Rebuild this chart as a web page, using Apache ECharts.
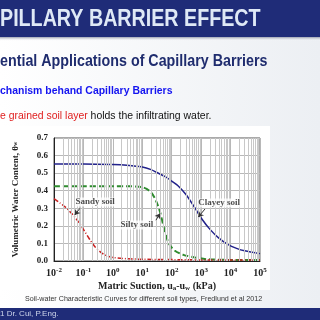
<!DOCTYPE html>
<html>
<head>
<meta charset="utf-8">
<script src="https://cdn.jsdelivr.net/npm/echarts@6/dist/echarts.min.js"></script>
<style>
html,body{margin:0;padding:0;background:#fff;}
#swcc_chart{width:320px;height:320px;}
</style>
</head>
<body>
<!-- soil-water characteristic curves -->
<div id="swcc_chart"></div>
<script type="text/javascript">
// matric suction (kPa) and volumetric water content
var clayeySuction = [0.01, 0.1, 1, 3, 10, 20, 30, 60, 100, 160, 300, 600, 1000, 2000, 4000, 8000, 16000, 30000, 100000];
var clayeyTheta   = [0.552, 0.552, 0.549, 0.545, 0.535, 0.52, 0.505, 0.48, 0.455, 0.43, 0.38, 0.305, 0.245, 0.18, 0.13, 0.095, 0.072, 0.058, 0.042];

var siltySuction = [0.01, 0.1, 1, 3, 6, 10, 14, 20, 28, 40, 56, 80, 125, 250, 630, 1600, 10000, 100000];
var siltyTheta   = [0.425, 0.425, 0.425, 0.425, 0.424, 0.42, 0.41, 0.39, 0.35, 0.28, 0.18, 0.10, 0.06, 0.035, 0.02, 0.01, 0.006, 0.005];

var sandySuction = [0.01, 0.016, 0.025, 0.04, 0.063, 0.1, 0.16, 0.25, 0.4, 0.63, 1, 3, 10, 100, 1000, 100000];
var sandyTheta   = [0.355, 0.33, 0.305, 0.27, 0.23, 0.18, 0.125, 0.08, 0.048, 0.03, 0.02, 0.013, 0.01, 0.008, 0.006, 0.005];

var yTicks = [0, 0.1, 0.2, 0.3, 0.4, 0.5, 0.6, 0.7];
var xDecades = [0.01, 0.1, 1, 10, 100, 1000, 10000, 100000];

// soil name labels: [suction, theta] of text and arrow [from, to]
var soilNames  = ['Sandy soil', 'Silty soil', 'Clayey soil'];
var namePos    = [[0.25, 0.336], [6.6, 0.205], [4100, 0.33]];
var arrowFrom  = [[0.076, 0.30], [29, 0.232], [1350, 0.296]];
var arrowTo    = [[0.051, 0.262], [40, 0.27], [800, 0.25]];

var swccChart = echarts.init(document.getElementById('swcc_chart'));

function pairs(xs, ys) {
	var list = [];
	for (var i = 0; i < xs.length; i++) {
		list.push([xs[i], ys[i]]);
	}
	return list;
}

// log minor grid lines (2..9 in each decade)
var minorLines = [];
for (var d = 0; d < xDecades.length - 1; d++) {
	for (var k = 2; k < 10; k++) {
		minorLines.push({xAxis: xDecades[d] * k});
	}
}

var serif = '"Liberation Serif","DejaVu Serif",serif';
var sans = '"Liberation Sans",Arial,sans-serif';

var options = {
	animation: false,
	backgroundColor: {
		type: 'linear', x: 0, y: 0, x2: 1, y2: 0,
		colorStops: [{offset: 0, color: '#ffffff'}, {offset: 1, color: '#eceff3'}]
	},
	grid: {
		left: 54, right: 60, top: 138, bottom: 59,
		show: true, borderColor: '#555', borderWidth: 1, backgroundColor: 'transparent'
	},
	xAxis: {
		type: 'log',
		logBase: 10,
		min: 0.01,
		max: 100000,
		splitNumber: 7,
		name: '{t|Matric Suction, u}{s|a}{t|-u}{s|w}{t| (kPa)}',
		nameLocation: 'middle',
		nameGap: 20,
		nameTextStyle: {
			rich: {
				t: {fontFamily: serif, fontWeight: 'bold', fontSize: 10, color: '#222'},
				s: {fontFamily: serif, fontWeight: 'bold', fontSize: 7, color: '#222', verticalAlign: 'bottom', padding: [4, 0, 0, 0]}
			}
		},
		axisLine: {onZero: false, lineStyle: {color: '#222', width: 1}},
		axisTick: {show: false},
		axisLabel: {
			interval: 0,
			margin: 6,
			formatter: function (v) {
				var e = Math.round(Math.log(v) / Math.LN10);
				return '{b|10}{s|' + e + '}';
			},
			rich: {
				b: {fontFamily: serif, fontSize: 10, fontWeight: 'bold', color: '#222'},
				s: {fontFamily: serif, fontSize: 7, fontWeight: 'bold', color: '#222', verticalAlign: 'top', padding: [0, 0, 5, 0]}
			}
		},
		splitLine: {show: true, lineStyle: {color: '#b8b8b8', width: 1}}
	},
	yAxis: {
		type: 'value',
		min: 0,
		max: 0.7,
		interval: 0.1,
		name: '{t|Volumetric Water Content, θ}{s|w}',
		nameLocation: 'middle',
		nameGap: 34,
		nameRotate: 90,
		nameTextStyle: {
			rich: {
				t: {fontFamily: serif, fontWeight: 'bold', fontSize: 9, color: '#222'},
				s: {fontFamily: serif, fontWeight: 'bold', fontSize: 6, color: '#222'}
			}
		},
		axisLine: {show: true, lineStyle: {color: '#222', width: 1}},
		axisTick: {show: false},
		axisLabel: {
			margin: 6,
			fontFamily: serif,
			fontWeight: 'bold',
			fontSize: 9,
			color: '#222',
			formatter: function (v) { return v.toFixed(1); }
		},
		splitLine: {show: true, lineStyle: {color: '#b8b8b8', width: 1}}
	},
	graphic: [
		// chart picture background
		{type: 'rect', z: -10, shape: {x: 0, y: 126, width: 270, height: 164}, style: {fill: '#ffffff'}},
		// top banner
		{type: 'rect', z: 5, shape: {x: 0, y: 0, width: 320, height: 37}, style: {fill: '#1f2c78'}},
		{type: 'rect', z: 5, shape: {x: 0, y: 37, width: 320, height: 4},
			style: {fill: {type: 'linear', x: 0, y: 0, x2: 0, y2: 1, colorStops: [{offset: 0, color: '#9aa0b0'}, {offset: 1, color: 'rgba(255,255,255,0)'}]}}},
		{type: 'text', z: 6, x: 0, y: 19, scaleX: 0.82, originX: 0,
			style: {text: 'PILLARY BARRIER EFFECT', fill: '#dfe9f6', font: 'bold 24px ' + sans, verticalAlign: 'middle'}},
		{type: 'text', z: 6, x: 0, y: 61, scaleX: 0.84, originX: 0,
			style: {text: 'ential Applications of Capillary Barriers', fill: '#1f2c6e', font: 'bold 17px ' + sans, verticalAlign: 'middle'}},
		{type: 'text', z: 6, x: 0, y: 91, scaleX: 0.95, originX: 0,
			style: {text: 'chanism behand Capillary Barriers', fill: '#1414f0', font: 'bold 11px ' + sans, verticalAlign: 'middle'}},
		{type: 'text', z: 6, x: 0, y: 116, scaleX: 0.95, originX: 0,
			style: {
				text: '{r|e grained soil layer}{k| holds the infiltrating water.}',
				verticalAlign: 'middle',
				rich: {
					r: {fill: '#e02020', font: '11px ' + sans},
					k: {fill: '#111', font: '11px ' + sans}
				}
			}},
		// caption
		{type: 'text', z: 6, x: 25, y: 299, scaleX: 1.02, originX: 0,
			style: {text: 'Soil-water Characteristic Curves for different soil types, Fredlund et al 2012', fill: '#333', font: '7px ' + sans, verticalAlign: 'middle'}},
		// footer
		{type: 'rect', z: 5, shape: {x: 0, y: 308, width: 320, height: 12}, style: {fill: '#1f2c78'}},
		{type: 'text', z: 6, x: 0, y: 314, style: {text: '1 Dr. Cui, P.Eng.', fill: '#cdd5ea', font: '8px ' + sans, verticalAlign: 'middle'}}
	],
	series: [
		{
			name: 'grid',
			type: 'line',
			data: [],
			silent: true,
			markLine: {
				silent: true,
				symbol: ['none', 'none'],
				label: {show: false},
				lineStyle: {color: '#c8c8c8', width: 1, type: 'solid'},
				data: minorLines
			}
		},
		{
			name: 'Clayey soil',
			type: 'line',
			smooth: 0.3,
			showSymbol: false,
			z: 4,
			data: pairs(clayeySuction, clayeyTheta),
			lineStyle: {color: '#22228a', width: 1.5}
		},
		{
			name: 'Silty soil',
			type: 'line',
			smooth: 0.3,
			showSymbol: false,
			z: 4,
			data: pairs(siltySuction, siltyTheta),
			lineStyle: {color: '#2e8b2e', width: 2, type: [6, 3]}
		},
		{
			name: 'Sandy soil',
			type: 'line',
			smooth: 0.3,
			showSymbol: false,
			z: 4,
			data: pairs(sandySuction, sandyTheta),
			lineStyle: {color: '#c82020', width: 1.5, type: [5, 2, 1, 2]}
		},
		{
			name: 'names',
			type: 'scatter',
			symbolSize: 0,
			z: 5,
			silent: true,
			data: namePos,
			label: {
				show: true,
				position: 'inside',
				formatter: function (p) { return soilNames[p.dataIndex]; },
				fontFamily: serif,
				fontWeight: 'bold',
				fontSize: 9,
				color: '#222',
				backgroundColor: '#fff'
			},
			markLine: {
				silent: true,
				symbol: ['none', 'arrow'],
				symbolSize: 5,
				label: {show: false},
				lineStyle: {color: '#333', width: 1, type: 'solid'},
				data: function () {
					var list = [];
					for (var i = 0; i < arrowFrom.length; i++) {
						list.push([{coord: arrowFrom[i]}, {coord: arrowTo[i]}]);
					}
					return list;
				}()
			}
		}
	]
};
swccChart.setOption(options);
</script>
</body>
</html>
